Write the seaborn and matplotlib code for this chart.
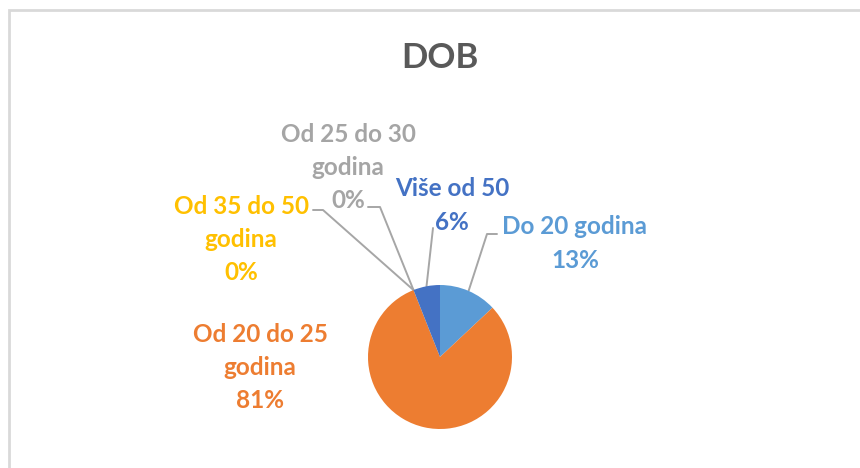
import matplotlib
matplotlib.use("Agg")
import matplotlib.pyplot as plt
import seaborn as sns
import numpy as np

# ---- data ----
categories = ["Do 20 godina", "Od 20 do 25 godina", "Od 25 do 30 godina",
              "Od 35 do 50 godina", "Više od 50"]
label_lines = [["Do 20 godina"], ["Od 20 do 25", "godina"], ["Od 25 do 30", "godina"],
               ["Od 35 do 50", "godina"], ["Više od 50"]]
values = [13, 81, 0, 0, 6]
colors = ["#5B9BD5", "#ED7D31", "#A5A5A5", "#FFC000", "#4472C4"]
title = "DOB"

sns.set_theme(style="white")
plt.rcParams['font.family'] = ['Lato', 'DejaVu Sans']

W, H = 860, 468
fig = plt.figure(figsize=(W / 100, H / 100), dpi=100)
ax = fig.add_axes([0, 0, 1, 1])

def P(y):
    return H - y

cx, cy, R = 440, P(357), 72
wedges, _ = ax.pie(values, colors=colors, startangle=90, counterclock=False,
                   center=(cx, cy), radius=R,
                   wedgeprops=dict(linewidth=0))

ax.set_xlim(0, W)
ax.set_ylim(0, H)
ax.set_aspect('equal')
ax.axis('off')

# chart border
ax.plot([8.5, 8.5, W + 5], [P(H + 5), P(9.5), P(9.5)], color="#D9D9D9",
        lw=2, solid_joinstyle='miter', clip_on=False)

ax.text(440, P(58), title, ha='center', va='center', fontsize=25,
        fontweight='bold', color='#595959')

# label layout: first-line center position, leader path (pixel coords)
layout = [
    dict(pos=(575, 226), path=[(497, 234), (487, 234)]),
    dict(pos=(260, 333), path=None),
    dict(pos=(348, 133), path=[(368, 207), (380, 207)]),
    dict(pos=(241, 205), path=[(313, 210), (323, 210)]),
    dict(pos=(452, 188), path=[(433, 228)]),
]
LINE = 33.5
BASE = 8.5

total = sum(values)
for w, lines, v, c, lay in zip(wedges, label_lines, values, colors, layout):
    pct = f"{round(v / total * 100):.0f}%"
    x, y = lay['pos']
    for i, line in enumerate(lines + [pct]):
        ax.text(x, P(y + i * LINE + BASE), line, ha='center', va='baseline',
                fontsize=17.5, fontweight='bold', color=c)
    if lay['path']:
        ang = np.deg2rad((w.theta1 + w.theta2) / 2)
        ex, ey = cx + R * np.cos(ang), cy + R * np.sin(ang)
        xs = [p[0] for p in lay['path']] + [ex]
        ys = [P(p[1]) for p in lay['path']] + [ey]
        ax.plot(xs, ys, color="#A6A6A6", lw=1.4, zorder=0.5)

fig.savefig("out.png", dpi=100)
